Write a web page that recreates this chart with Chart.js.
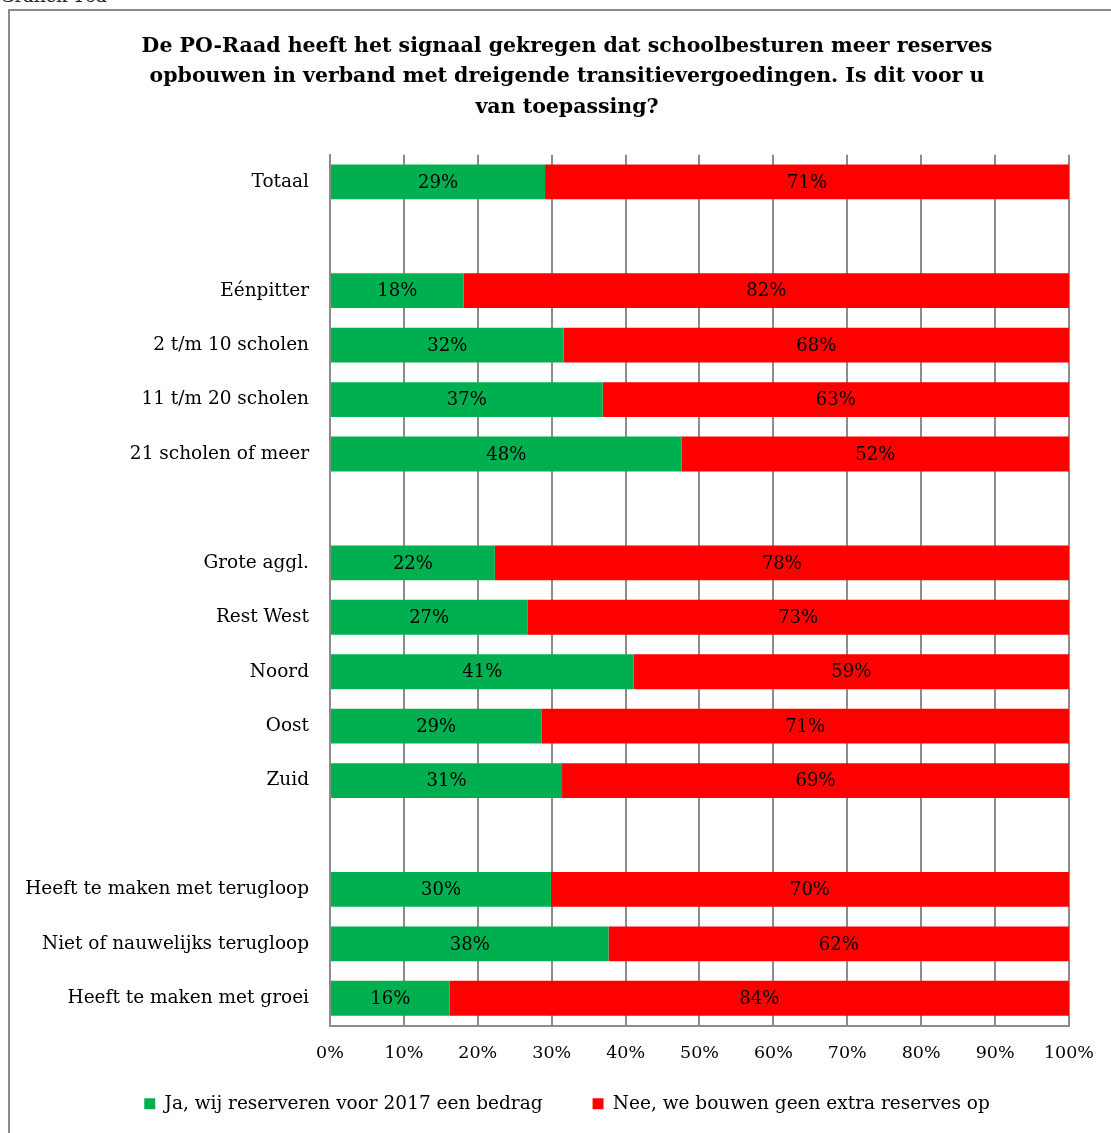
<!DOCTYPE html>
<html>
<head>
<meta charset="utf-8">
<script src="https://cdn.jsdelivr.net/npm/chart.js@4/dist/chart.umd.min.js"></script>
<style>
  html, body { margin: 0; padding: 0; background: #fff; overflow: hidden; }
  #wrap { position: relative; width: 1111px; height: 1133px; overflow: hidden; }
  #kop { position: absolute; left: 0; top: -15px; font: 18px "DejaVu Serif", serif; color: #222; }
  #kader { position: absolute; left: 8px; top: 9px; width: 1200px; height: 1200px; border: 2px solid #8a8a8a; }
  #grafiek { position: absolute; left: 0; top: 0; }
</style>
</head>
<body>
<div id="wrap">
  <div id="kop">Grafiek 16a</div>
  <div id="kader"></div>
  <canvas id="grafiek" width="1111" height="1133"></canvas>
</div>
<script>
// categorieën (lege regels scheiden de groepen)
const categorieen = ['Totaal', '', 'Eénpitter', '2 t/m 10 scholen', '11 t/m 20 scholen', '21 scholen of meer', '',
    'Grote aggl.', 'Rest West', 'Noord', 'Oost', 'Zuid', '',
    'Heeft te maken met terugloop', 'Niet of nauwelijks terugloop', 'Heeft te maken met groei'];

// percentages
const jaWaarden  = [29.1, null, 18.1, 31.6, 36.9, 47.6, null, 22.3, 26.7, 41.1, 28.6, 31.4, null, 29.9, 37.7, 16.2];
const neeWaarden = [70.9, null, 81.9, 68.4, 63.1, 52.4, null, 77.7, 73.3, 58.9, 71.4, 68.6, null, 70.1, 62.3, 83.8];

const reeksNamen = ['Ja, wij reserveren voor 2017 een bedrag', 'Nee, we bouwen geen extra reserves op'];
const asTicks = [0, 10, 20, 30, 40, 50, 60, 70, 80, 90, 100];

const titelRegels = [
    'De PO-Raad heeft het signaal gekregen dat schoolbesturen meer reserves',
    'opbouwen in verband met dreigende transitievergoedingen. Is dit voor u',
    'van toepassing?'
];

const lettertype = '"DejaVu Serif", serif';
Chart.defaults.font.family = lettertype;
Chart.defaults.color = '#000';

// eigen plugin: percentage midden in elk balkdeel
const balkLabels = {
    id: 'balkLabels',
    afterDatasetsDraw(chart) {
        const ctx = chart.ctx;
        ctx.save();
        ctx.font = '18px ' + lettertype;
        ctx.fillStyle = '#000';
        ctx.textAlign = 'center';
        ctx.textBaseline = 'middle';
        chart.data.datasets.forEach((ds, i) => {
            const meta = chart.getDatasetMeta(i);
            meta.data.forEach((el, j) => {
                const v = ds.data[j];
                if (v === null || v === undefined) return;
                ctx.fillText(Math.round(v) + '%', (el.x + el.base) / 2, el.y + 1);
            });
        });
        ctx.restore();
    }
};

const ctx = document.getElementById('grafiek').getContext('2d');
new Chart(ctx, {
    type: 'bar',
    data: {
        labels: categorieen,
        datasets: [{
            label: reeksNamen[0],
            data: jaWaarden,
            backgroundColor: '#00B050',
            categoryPercentage: 1,
            barPercentage: 0.64
        }, {
            label: reeksNamen[1],
            data: neeWaarden,
            backgroundColor: '#FF0000',
            categoryPercentage: 1,
            barPercentage: 0.64
        }]
    },
    options: {
        indexAxis: 'y',
        responsive: false,
        animation: false,
        layout: { padding: { top: 31, left: 64, right: 41, bottom: 10 } },
        scales: {
            x: {
                stacked: true,
                min: 0,
                max: 100,
                afterBuildTicks: function(as) {
                    as.ticks = asTicks.map(v => ({ value: v }));
                },
                afterFit: function(as) {
                    as.height = 19;
                    as._computeLabelArea = () => null; // labels niet afknippen
                },
                ticks: {
                    padding: 17,
                    font: { size: 17.5 },
                    color: '#000',
                    callback: v => v + '%'
                },
                grid: { color: '#8c8c8c', lineWidth: 2, drawTicks: false },
                border: { color: '#8c8c8c', width: 2 }
            },
            y: {
                stacked: true,
                afterFit: function(as) {
                    as.width = 266;
                    as._computeLabelArea = () => null;
                },
                ticks: { padding: 21, font: { size: 18.5 }, color: '#000', autoSkip: false },
                grid: { display: false, drawTicks: false },
                border: { color: '#8c8c8c', width: 2 }
            }
        },
        plugins: {
            title: {
                display: true,
                text: titelRegels,
                font: { size: 20.5, weight: 'bold', lineHeight: 1.49 },
                color: '#000',
                padding: { top: 0, bottom: 32 }
            },
            legend: {
                position: 'bottom',
                labels: {
                    boxWidth: 11,
                    boxHeight: 11,
                    padding: 50,
                    font: { size: 18.5 },
                    color: '#000'
                }
            },
            tooltip: { enabled: false }
        }
    },
    plugins: [balkLabels]
});
</script>
</body>
</html>
